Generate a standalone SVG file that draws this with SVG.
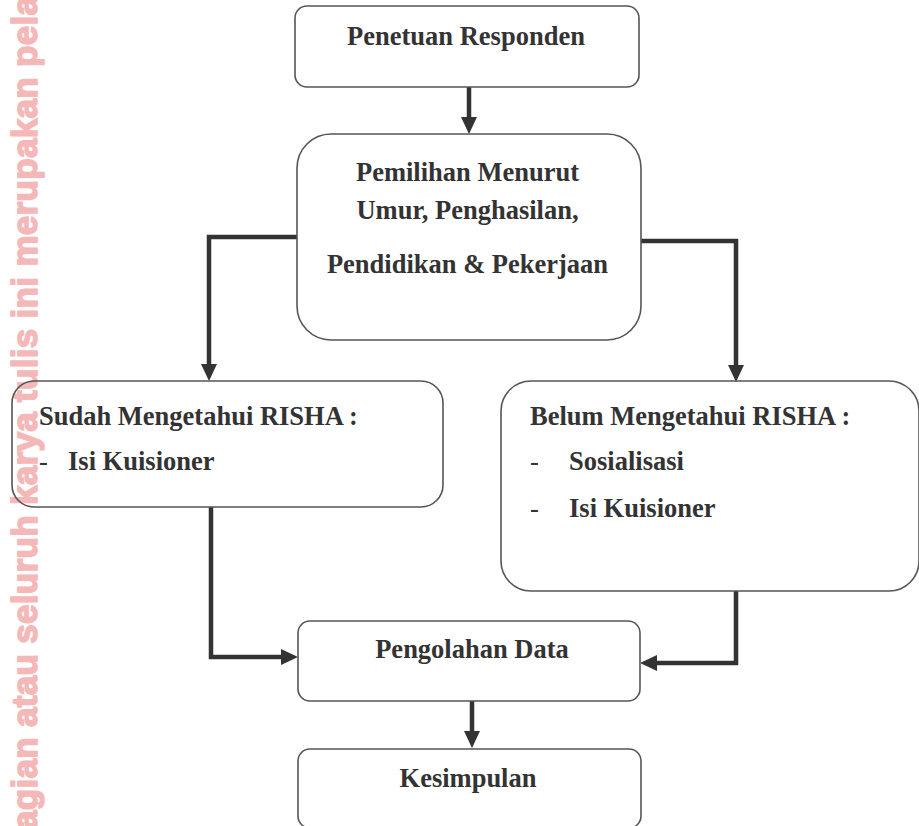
<svg xmlns="http://www.w3.org/2000/svg" width="919" height="826" viewBox="0 0 919 826">
  <defs>
    <style>
      .box { fill: none; stroke: #555555; stroke-width: 1.6; }
      .t { font-family: "Liberation Serif", "Times New Roman", serif; font-weight: bold; font-size: 26.5px; fill: #333333; }
      .c { text-anchor: middle; }
      .dash { font-weight: normal; }
      .conn { fill: none; stroke: #333333; stroke-width: 4.5; stroke-linejoin: miter; marker-end: url(#arrow); }
      .wm { font-family: "Liberation Sans", Arial, sans-serif; font-weight: bold; font-size: 35px; fill: #f5b8b8; stroke: #f5b8b8; stroke-width: 1.6; }
    </style>
    <marker id="arrow" markerUnits="userSpaceOnUse" viewBox="0 -8 17 16" refX="2" refY="0" markerWidth="17" markerHeight="16" orient="auto">
      <path d="M0,-8 L17,0 L0,8 Z" fill="#333333"/>
    </marker>
  </defs>

  <rect width="919" height="826" fill="#ffffff"/>

  <g id="watermark">
    <text class="wm" transform="translate(37,830) rotate(-90)" x="0" y="0" textLength="834" lengthAdjust="spacing">agian atau seluruh karya tulis ini merupakan pela</text>
  </g>

  <g id="connectors">
    <path class="conn" d="M469,87 V119"/>
    <path class="conn" d="M297,237 H209 V366"/>
    <path class="conn" d="M641,241 H736 V367"/>
    <path class="conn" d="M211,507 V657 H283"/>
    <path class="conn" d="M736,591 V663 H655"/>
    <path class="conn" d="M472,701 V733"/>
  </g>

  <g id="penetuan-responden">
    <rect class="box" x="295" y="6" width="344" height="81" rx="12"/>
    <text class="t c" x="466" y="45">Penetuan Responden</text>
  </g>

  <g id="pemilihan">
    <rect class="box" x="297" y="134" width="344" height="206" rx="34"/>
    <text class="t c" x="467.5" y="181">Pemilihan Menurut</text>
    <text class="t c" x="467.5" y="219">Umur, Penghasilan,</text>
    <text class="t c" x="467.5" y="273">Pendidikan &amp; Pekerjaan</text>
  </g>

  <g id="sudah-mengetahui">
    <rect class="box" x="12" y="381" width="431" height="126" rx="22"/>
    <text class="t" x="39" y="425">Sudah Mengetahui RISHA :</text>
    <text class="t dash" x="39" y="470">-</text>
    <text class="t" x="68" y="470">Isi Kuisioner</text>
  </g>

  <g id="belum-mengetahui">
    <rect class="box" x="501" y="381" width="418" height="210" rx="30"/>
    <text class="t" x="530" y="425">Belum Mengetahui RISHA :</text>
    <text class="t dash" x="530" y="470">-</text>
    <text class="t" x="569" y="470">Sosialisasi</text>
    <text class="t dash" x="530" y="517">-</text>
    <text class="t" x="569" y="517">Isi Kuisioner</text>
  </g>

  <g id="pengolahan-data">
    <rect class="box" x="298" y="621" width="342" height="80" rx="12"/>
    <text class="t c" x="472" y="658">Pengolahan Data</text>
  </g>

  <g id="kesimpulan">
    <rect class="box" x="298" y="749" width="343" height="79" rx="12"/>
    <text class="t c" x="468" y="787">Kesimpulan</text>
  </g>
</svg>
